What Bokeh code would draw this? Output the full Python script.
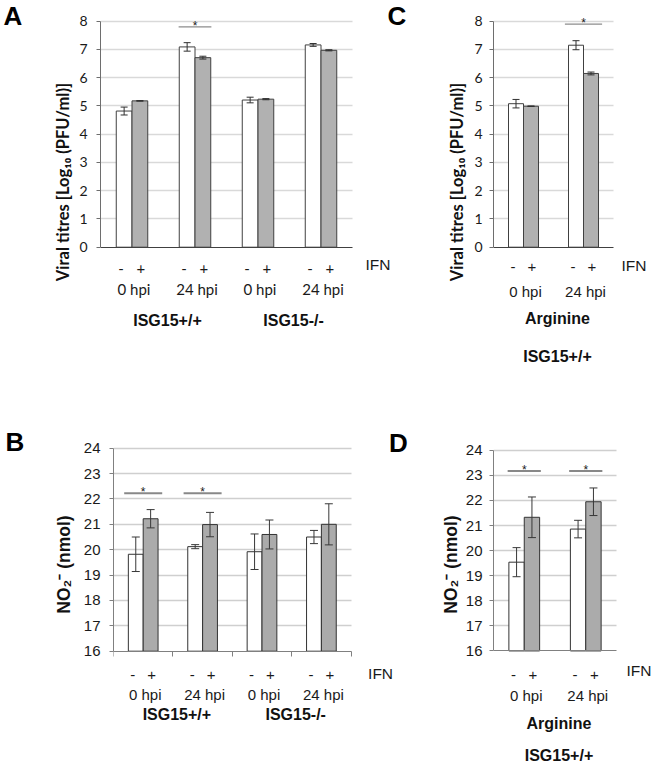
from bokeh.plotting import figure
from bokeh.models import ColumnDataSource, Whisker, TeeHead, Label, Range1d, FixedTicker
from bokeh.layouts import row, column
from bokeh.embed import file_html
from bokeh.resources import INLINE

# ---------------- data ----------------
# Panel A : viral titres, ISG15+/+ and ISG15-/-
A_GROUPS = ["ISG15+/+", "ISG15-/-"]
A_TIMES = ["0 hpi", "24 hpi", "0 hpi", "24 hpi"]
A_MINUS = [4.82, 7.09, 5.21, 7.16]
A_MINUS_ERR = [0.14, 0.15, 0.10, 0.05]
A_PLUS = [5.18, 6.71, 5.24, 6.97]
A_PLUS_ERR = [0.01, 0.05, 0.02, 0.02]
A_SIG_PAIRS = [1]
A_SIG_Y = 7.8
A_YTICKS = [0, 1, 2, 3, 4, 5, 6, 7, 8]
A_YLABEL = "Viral titres [Log\u2081\u2080 (PFU/ml)]"

# Panel C : viral titres, arginine
C_GROUPS = ["Arginine"]
C_SUBTITLE = "ISG15+/+"
C_TIMES = ["0 hpi", "24 hpi"]
C_MINUS = [5.08, 7.15]
C_MINUS_ERR = [0.15, 0.16]
C_PLUS = [4.99, 6.15]
C_PLUS_ERR = [0.01, 0.05]
C_SIG_PAIRS = [1]
C_SIG_Y = 7.9
C_YTICKS = [0, 1, 2, 3, 4, 5, 6, 7, 8]

# Panel B : NO2-, ISG15+/+ and ISG15-/-
B_GROUPS = ["ISG15+/+", "ISG15-/-"]
B_TIMES = ["0 hpi", "24 hpi", "0 hpi", "24 hpi"]
B_MINUS = [19.82, 20.12, 19.92, 20.50]
B_MINUS_ERR = [0.68, 0.08, 0.70, 0.26]
B_PLUS = [21.22, 20.99, 20.60, 21.00]
B_PLUS_ERR = [0.36, 0.48, 0.57, 0.81]
B_SIG_PAIRS = [0, 1]
B_SIG_Y = 22.22
B_YTICKS = [16, 17, 18, 19, 20, 21, 22, 23, 24]
B_YLABEL = "NO\u2082\u207b (nmol)"

# Panel D : NO2-, arginine
D_GROUPS = ["Arginine"]
D_SUBTITLE = "ISG15+/+"
D_TIMES = ["0 hpi", "24 hpi"]
D_MINUS = [19.54, 20.86]
D_MINUS_ERR = [0.58, 0.35]
D_PLUS = [21.33, 21.95]
D_PLUS_ERR = [0.81, 0.55]
D_SIG_PAIRS = [0, 1]
D_SIG_Y = 23.18
D_YTICKS = [16, 17, 18, 19, 20, 21, 22, 23, 24]

IFN_LABEL = "IFN"
SIGNS = ["-", "+"]

CAL = "Lato"
ARIAL = "Liberation Sans"
TXT = "#1a1a1a"


def panel(times, minus, minus_err, plus, plus_err, yticks, sig_pairs, sig_y, ylabel,
          groups, subtitle, g, st):
    """g: canvas geometry in pixels; the frame runs from the y axis to the right edge
    and from the top edge down to a thin bottom border; the x axis sits at the value
    axis base (fixed_location) so the category texts under it stay inside the frame."""
    n = len(minus)
    ylo, yhi = yticks[0], yticks[-1]
    bb = g["bb"]
    fw = g["W"] - g["bl"]
    fh = g["H"] - bb
    kx = n / g["pw"]
    xr = Range1d(0, fw * kx)
    ky = (yhi - ylo) / (g["y_lo"] - g["y_hi"])
    yr = Range1d(ylo - (fh - g["y_lo"]) * ky, yhi + g["y_hi"] * ky)
    p = figure(width=g["W"], height=g["H"], min_border_left=g["bl"], min_border_right=0,
               min_border_top=0, min_border_bottom=bb, x_range=xr, y_range=yr,
               output_backend="svg", toolbar_location=None, tools="")
    p.outline_line_color = None
    p.background_fill_color = "white"
    p.border_fill_color = "white"
    p.xgrid.visible = False

    grid = p.ygrid[0]
    grid.ticker = FixedTicker(ticks=yticks[1:])
    if hasattr(grid, "cross_bounds"):
        grid.cross_bounds = (0, n)
        grid.grid_line_color = st["grid"]
        grid.grid_line_width = 1.5
    else:
        grid.visible = False
        gt = yticks[1:]
        p.segment(x0=[0] * len(gt), x1=[n] * len(gt), y0=gt, y1=gt,
                  line_color=st["grid"], line_width=1.5)

    ya = p.yaxis[0]
    ya.ticker = FixedTicker(ticks=yticks)
    ya.bounds = (ylo, yhi)
    ya.major_tick_out = 4
    ya.major_tick_in = 0
    ya.minor_tick_out = 0
    ya.minor_tick_in = 0
    ya.axis_line_color = st["yaxis"]
    ya.major_tick_line_color = st["yaxis"]
    ya.major_label_standoff = st["tick_standoff"]
    ya.major_label_text_font = st["tick_font"]
    ya.major_label_text_font_size = st["tick_size"]
    ya.major_label_text_color = TXT
    ya.axis_label = ylabel
    ya.axis_label_text_font = st["ytitle_font"]
    ya.axis_label_text_font_size = st["ytitle_size"]
    ya.axis_label_text_font_style = "bold"
    ya.axis_label_text_color = "#111111"
    ya.axis_label_standoff = st["ytitle_standoff"]

    xa = p.xaxis[0]
    xa.fixed_location = ylo
    xa.bounds = (0, n)
    xa.axis_line_color = st["xaxis"]
    xa.axis_line_width = 1
    xa.minor_tick_out = 0
    xa.minor_tick_in = 0
    xa.major_tick_in = 0
    xa.major_label_standoff = 0
    if st["xticks"]:
        bnds = list(range(n + 1))
        xa.ticker = FixedTicker(ticks=bnds)
        xa.major_tick_out = 5
        xa.major_tick_line_color = st["xaxis"]
        xa.major_label_overrides = {b: "" for b in bnds}
    else:
        xa.ticker = FixedTicker(ticks=[])
        xa.major_tick_out = 0

    xm = [i + 0.5 - 0.125 for i in range(n)]
    xp = [i + 0.5 + 0.125 for i in range(n)]
    p.vbar(x=xm, top=minus, bottom=ylo, width=0.25, fill_color="white",
           line_color=st["bar_line"], line_width=1)
    p.vbar(x=xp, top=plus, bottom=ylo, width=0.25, fill_color=st["grey"],
           line_color=st["bar_line"], line_width=1)

    vals = minus + plus
    errs = minus_err + plus_err
    src = ColumnDataSource(dict(x=xm + xp,
                                lo=[v - e for v, e in zip(vals, errs)],
                                hi=[v + e for v, e in zip(vals, errs)]))
    cap = st["cap"]
    w = Whisker(source=src, base="x", lower="lo", upper="hi",
                line_color=st["err"], line_width=1, level="overlay",
                upper_head=TeeHead(size=cap, line_color=st["err"], line_width=1),
                lower_head=TeeHead(size=cap, line_color=st["err"], line_width=1))
    p.add_layout(w)

    hw = st["sig_hw"]
    cs = [i + 0.5 for i in sig_pairs]
    p.segment(x0=[c - hw for c in cs], y0=[sig_y] * len(cs),
              x1=[c + hw for c in cs], y1=[sig_y] * len(cs),
              line_color=st["sig_color"], line_width=st["sig_w"])
    for c in cs:
        p.add_layout(Label(x=c, y=sig_y, text="*", text_align="center",
                           text_baseline="alphabetic", text_font=ARIAL,
                           text_font_size="12px", text_color=TXT, y_offset=1))

    off = st["offs"]

    def lab(x, text, dx, dy, font, size, bold=False, align="center"):
        p.add_layout(Label(x=x, y=ylo, text=text, x_offset=dx, y_offset=-dy,
                           text_align=align, text_baseline="middle", text_font=font,
                           text_font_size=size,
                           text_font_style="bold" if bold else "normal",
                           text_color="#111111" if bold else TXT))

    for i in range(n):
        lab(i + 0.375, SIGNS[0], -3, off["sign"], st["cat_font"], st["cat_size"])
        lab(i + 0.625, SIGNS[1], 1, off["sign"], st["cat_font"], st["cat_size"])
        lab(i + 0.5, times[i], 2, off["time"], st["cat_font"], st["cat_size"])
    per = n // len(groups)
    for gi, name in enumerate(groups):
        lab(gi * per + per / 2, name, 4, off["group"], ARIAL, "16px", bold=True)
    if subtitle:
        lab(n / 2, subtitle, 4, off["sub"], ARIAL, "16px", bold=True)
    lab(n, IFN_LABEL, st["ifn_dx"], off["ifn"], ARIAL, "15.5px", align="left")
    return p


def add_letter(p, letter, x, y, dx, dy):
    p.add_layout(Label(x=x, y=y, x_offset=dx, y_offset=dy, text=letter,
                       text_align="left", text_baseline="middle", text_font=ARIAL,
                       text_font_size="26px", text_font_style="bold",
                       text_color="#000000"))


def letter_fig(letter, W, H, x_px, y_from_top):
    f = figure(width=W, height=H, x_range=Range1d(0, W), y_range=Range1d(0, H),
               x_axis_type=None, y_axis_type=None, min_border_left=0,
               min_border_right=0, min_border_top=0, min_border_bottom=0,
               output_backend="svg", toolbar_location=None, tools="")
    f.outline_line_color = None
    f.border_fill_color = "white"
    add_letter(f, letter, x_px, H - y_from_top, 0, 0)
    return f


TOP_H = 365
BOT_H = 404
LW = 50

style_top = dict(grid="#d9d9d9", yaxis="#6e6e6e", xaxis="#404040", tick_standoff=9,
                 tick_font=CAL, tick_size="14px", ytitle_font=CAL, ytitle_size="16.5px",
                 ytitle_standoff=3, xticks=False, bar_line="#404040", grey="#b1b1b1",
                 err="#303030", cap=7, sig_hw=0.26, sig_color="#8c8c8c", sig_w=1.2,
                 cat_font=CAL, cat_size="15px", ifn_dx=13,
                 offs=dict(sign=21, time=42, group=73, sub=110, ifn=17.5))

# Panel A
pA = panel(A_TIMES, A_MINUS, A_MINUS_ERR, A_PLUS, A_PLUS_ERR, A_YTICKS, A_SIG_PAIRS,
           A_SIG_Y, A_YLABEL, A_GROUPS, None,
           dict(W=360, H=TOP_H, bl=50, bb=2, pw=252, y_lo=246.7, y_hi=20.7), style_top)
# panel letter C sits above the right end of panel A's canvas
add_letter(pA, "C", len(A_MINUS), A_YTICKS[-1], 35, 5.7)

# Panel C
style_c = dict(style_top)
style_c.update(tick_standoff=7, ytitle_standoff=4, sig_hw=0.31, cat_font=ARIAL,
               ifn_dx=8, offs=dict(sign=20, time=44, group=71, sub=109, ifn=18))
pC = panel(C_TIMES, C_MINUS, C_MINUS_ERR, C_PLUS, C_PLUS_ERR, C_YTICKS, C_SIG_PAIRS,
           C_SIG_Y, A_YLABEL, C_GROUPS, C_SUBTITLE,
           dict(W=243, H=TOP_H, bl=83, bb=2, pw=120, y_lo=246.7, y_hi=20.7), style_c)

style_bot = dict(grid="#cfcfcf", yaxis="#808080", xaxis="#808080", tick_standoff=9,
                 tick_font=ARIAL, tick_size="15px", ytitle_font=ARIAL, ytitle_size="17.5px",
                 ytitle_standoff=7, xticks=True, bar_line="#333333", grey="#ababab",
                 err="#383838", cap=8, sig_hw=0.32, sig_color="#888888", sig_w=2,
                 cat_font=ARIAL, cat_size="15px", ifn_dx=17,
                 offs=dict(sign=24, time=43, group=63, sub=104, ifn=22.6))

# Panel B
pB = panel(B_TIMES, B_MINUS, B_MINUS_ERR, B_PLUS, B_PLUS_ERR, B_YTICKS, B_SIG_PAIRS,
           B_SIG_Y, B_YLABEL, B_GROUPS, None,
           dict(W=360, H=BOT_H, bl=60, bb=6, pw=240, y_lo=285.7, y_hi=82.7), style_bot)
add_letter(pB, "D", len(B_MINUS), B_YTICKS[-1], 38, 5.2)

# Panel D
style_d = dict(style_bot)
style_d.update(tick_standoff=7, ytitle_standoff=2, xticks=False, sig_hw=0.27, ifn_dx=10,
               offs=dict(sign=24, time=45, group=73, sub=105, ifn=20))
pD = panel(D_TIMES, D_MINUS, D_MINUS_ERR, D_PLUS, D_PLUS_ERR, D_YTICKS, D_SIG_PAIRS,
           D_SIG_Y, B_YLABEL, D_GROUPS, D_SUBTITLE,
           dict(W=243, H=BOT_H, bl=83, bb=2, pw=123, y_lo=288.3, y_hi=85.7), style_d)

lA = letter_fig("A", LW, TOP_H, 3, 16)
lB = letter_fig("B", LW, BOT_H, 5, 77.5)

layout = column(row(lA, pA, pC), row(lB, pB, pD))
open("out.html", "w").write(file_html(layout, INLINE))
